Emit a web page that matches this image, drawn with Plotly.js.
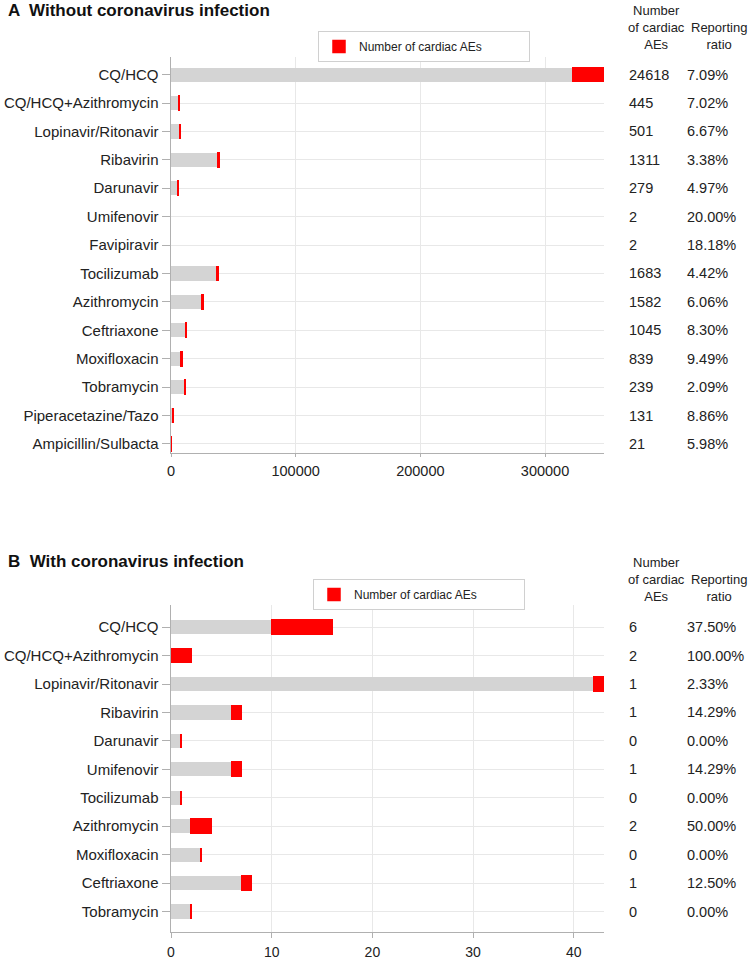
<!DOCTYPE html>
<html>
<head>
<meta charset="utf-8">
<script src="https://cdn.plot.ly/plotly-3.0.1.min.js"></script>
<style>html,body{margin:0;padding:0;background:#fff;}#chart{width:749px;height:961px;}</style>
</head>
<body>
<div id="chart"></div>
<script>
// Panel A: without coronavirus infection
const drugsA = ["CQ/HCQ","CQ/HCQ+Azithromycin","Lopinavir/Ritonavir","Ribavirin","Darunavir","Umifenovir","Favipiravir","Tocilizumab","Azithromycin","Ceftriaxone","Moxifloxacin","Tobramycin","Piperacetazine/Tazo","Ampicillin/Sulbacta"];
const otherA = [322600, 5894, 7010, 37476, 5335, 8, 9, 36394, 24524, 11545, 8002, 11196, 1348, 330];
const cardiacA = [24618, 445, 501, 1311, 279, 2, 2, 1683, 1582, 1045, 839, 239, 131, 21];
const ratioA = ["7.09%","7.02%","6.67%","3.38%","4.97%","20.00%","18.18%","4.42%","6.06%","8.30%","9.49%","2.09%","8.86%","5.98%"];
const ticksA = [0, 100000, 200000, 300000];

// Panel B: with coronavirus infection
const drugsB = ["CQ/HCQ","CQ/HCQ+Azithromycin","Lopinavir/Ritonavir","Ribavirin","Darunavir","Umifenovir","Tocilizumab","Azithromycin","Moxifloxacin","Ceftriaxone","Tobramycin"];
const otherB = [10, 0, 42, 6, 1, 6, 1, 2, 3, 7, 2];
const cardiacB = [6, 2, 1, 1, 0, 1, 0, 2, 0, 1, 0];
const ratioB = ["37.50%","100.00%","2.33%","14.29%","0.00%","14.29%","0.00%","50.00%","0.00%","12.50%","0.00%"];
const ticksB = [0, 10, 20, 30, 40];

const GRAY = "#d4d4d4", RED = "#ff0000", GRID = "#e8e8e8", AXIS = "#b0b0b0";
const FONT = "Liberation Sans, Arial, sans-serif";

function barTraces(drugs, other, cardiac, xa, ya, leg, lineW) {
  return [
    {type:"bar", orientation:"h", y:drugs, x:other, xaxis:xa, yaxis:ya,
     marker:{color:GRAY, line:{width:0}}, showlegend:false, name:"Other AEs"},
    {type:"bar", orientation:"h", y:drugs, x:cardiac, xaxis:xa, yaxis:ya,
     marker:{color:RED, line:{color:RED, width:lineW}}, name:"Number of cardiac AEs", legend:leg, showlegend:true}
  ];
}

// outline widths (style): invisible outline for the two tiny Panel A bars
const lineWA = drugsA.map(d => (d === "Umifenovir" || d === "Favipiravir") ? 0 : 1.5);

const data = [
  ...barTraces(drugsA, otherA, cardiacA, "x", "y", "legend", lineWA),
  ...barTraces(drugsB, otherB, cardiacB, "x2", "y2", "legend2", 1.5)
];

const H = 961;
const px = v => 1 - v / H;

function xax(anchor, ticks, range, ticklen, standoff, fs) {
  return {anchor:anchor, domain:[0,1], range:range, tickvals:ticks, ticktext:ticks.map(String),
    showgrid:true, gridcolor:GRID, gridwidth:1, zeroline:false, showline:true, linecolor:AXIS, linewidth:1,
    ticks:"outside", ticklen:ticklen, tickcolor:AXIS, ticklabelstandoff:standoff,
    tickfont:{size:fs, color:"#222", family:FONT}};
}
function yax(anchor, domain, n, padTop, padBot) {
  return {anchor:anchor, domain:domain, type:"category", range:[n - 1 + padBot, -padTop],
    showgrid:true, gridcolor:GRID, gridwidth:1, showline:true, linecolor:AXIS, linewidth:1.5,
    ticks:"outside", ticklen:8, tickcolor:AXIS, tickfont:{size:15, color:"#222", family:FONT}};
}

const annotations = [];
function addText(text, x, y, yref, opts) {
  annotations.push(Object.assign({text:text, x:x, y:y, xref:"paper", yref:yref, showarrow:false,
    xanchor:"left", yanchor:"middle", font:{size:14.5, color:"#222", family:FONT}}, opts || {}));
}
const plotL = 171, plotW = 433;
const xp = v => (v - plotL) / plotW;

// Titles
addText("<b>A  Without coronavirus infection</b>", xp(6), px(11), "paper", {font:{size:17, color:"#111", family:FONT}});
addText("<b>B  With coronavirus infection</b>", xp(6), px(561), "paper", {font:{size:17, color:"#111", family:FONT}});

// Column headers
function headers(top) {
  addText("Number<br>of cardiac<br>AEs", xp(656), px(top + 17), "paper", {xanchor:"center", align:"center", font:{size:13, color:"#222", family:FONT}});
  addText("Reporting<br>ratio", xp(719), px(top + 26), "paper", {xanchor:"center", align:"center", font:{size:13, color:"#222", family:FONT}});
}
headers(10);
headers(562);

drugsA.forEach((d, i) => {
  addText(String(cardiacA[i]), xp(627), d, "y");
  addText(ratioA[i], xp(685), d, "y");
});
drugsB.forEach((d, i) => {
  addText(String(cardiacB[i]), xp(627), d, "y2");
  addText(ratioB[i], xp(685), d, "y2");
});

const legendStyle = {xanchor:"left", yanchor:"top", orientation:"h",
  bgcolor:"#fff", bordercolor:"#d0d0d0", borderwidth:1, font:{size:12, family:FONT, color:"#222"},
  itemwidth:30, entrywidth:165};

const layout = {
  width:749, height:961, paper_bgcolor:"#fff", plot_bgcolor:"#fff",
  margin:{l:plotL, r:749 - plotL - plotW, t:0, b:0},
  barmode:"stack", bargap:0.5,
  font:{family:FONT, size:13, color:"#222"},
  xaxis: xax("y", ticksA, [0, 347300], 3, 2, 14.5),
  yaxis: yax("x", [px(453), px(57)], drugsA.length, 0.62, 0.32),
  xaxis2: xax("y2", ticksB, [0, 43], 5, 2, 14),
  yaxis2: yax("x2", [px(932), px(605)], drugsB.length, 0.78, 0.72),
  legend: Object.assign({x:xp(318), y:px(31)}, legendStyle),
  legend2: Object.assign({x:xp(313), y:px(579)}, legendStyle),
  annotations:annotations,
  hovermode:false
};

Plotly.newPlot("chart", data, layout, {displayModeBar:false, staticPlot:true});
</script>
</body>
</html>
